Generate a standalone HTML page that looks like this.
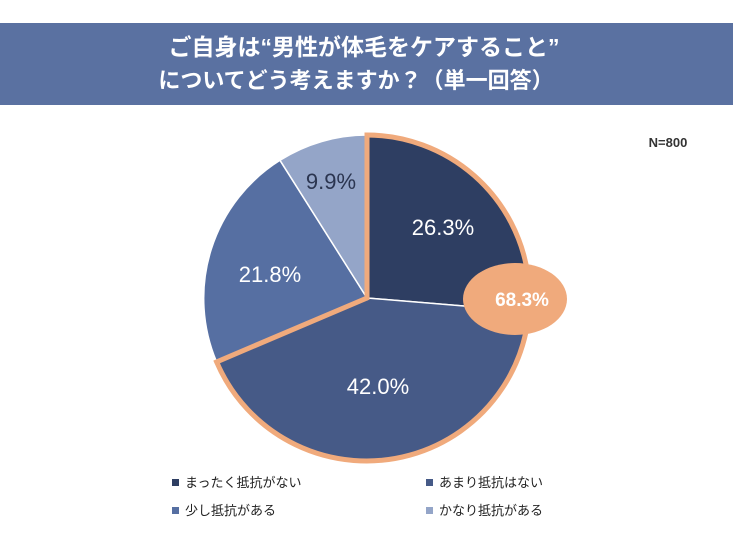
<!DOCTYPE html>
<html><head><meta charset="utf-8"><style>
body{margin:0;background:#fff;width:733px;height:550px;overflow:hidden;font-family:"Liberation Sans","Noto Sans CJK JP",sans-serif}
</style></head><body>
<svg width="733" height="550" xmlns="http://www.w3.org/2000/svg" style="font-family:'Liberation Sans','Noto Sans CJK JP',sans-serif">
<rect x="0" y="0" width="733" height="550" fill="#fff"/>
<rect x="0" y="23" width="733" height="82" fill="#5a71a1"/>
<text x="364" y="55" text-anchor="middle" font-size="23" font-weight="bold" fill="#fff">ご自身は“男性が体毛をケアすること”</text>
<text x="356" y="88" text-anchor="middle" font-size="22" font-weight="bold" fill="#fff">についてどう考えますか？（単一回答）</text>
<text x="668" y="147" text-anchor="middle" font-size="13" font-weight="bold" fill="#333">N=800</text>
<g stroke="#fff" stroke-width="1.5">
<path d="M367,298 L367,135 A163,163 0 0 1 529.4,311.4 Z" fill="#2e3e62"/>
<path d="M367,298 L529.4,311.4 A163,163 0 0 1 216.6,361.9 Z" fill="#465a87"/>
<path d="M367,298 L216.6,361.9 A163,163 0 0 1 280.0,160.3 Z" fill="#566fa2"/>
<path d="M367,298 L280.0,160.3 A163,163 0 0 1 367,135 Z" fill="#94a5c8"/>
</g>
<path d="M367,298 L367,135 A163,163 0 1 1 216.6,361.9 Z" fill="none" stroke="#f0aa7c" stroke-width="5" stroke-linejoin="miter"/>
<ellipse cx="515" cy="299" rx="52" ry="36" fill="#f0aa7c"/>
<g font-size="22" text-anchor="middle">
<text x="443" y="235" fill="#fff">26.3%</text>
<text x="522" y="306" fill="#fff" font-weight="bold" font-size="19">68.3%</text>
<text x="378" y="394" fill="#fff">42.0%</text>
<text x="270" y="282" fill="#fff">21.8%</text>
<text x="331" y="189" fill="#2b3550">9.9%</text>
</g>
<g font-size="13" fill="#222">
<rect x="172" y="479" width="7" height="7" fill="#2e3e62"/><text x="185" y="487">まったく抵抗がない</text>
<rect x="426" y="479" width="7" height="7" fill="#465a87"/><text x="439" y="487">あまり抵抗はない</text>
<rect x="172" y="507" width="7" height="7" fill="#566fa2"/><text x="185" y="515">少し抵抗がある</text>
<rect x="426" y="507" width="7" height="7" fill="#94a5c8"/><text x="439" y="515">かなり抵抗がある</text>
</g>
</svg>
</body></html>
